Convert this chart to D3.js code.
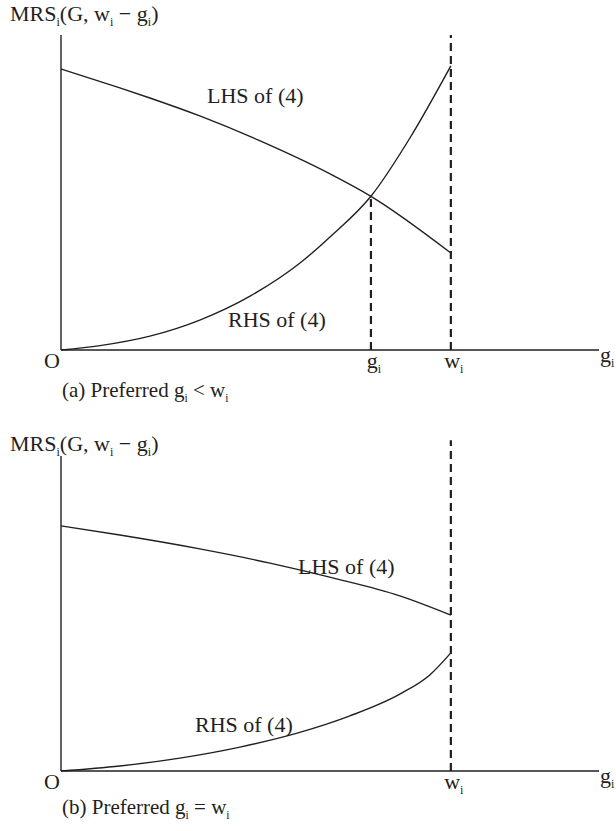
<!DOCTYPE html>
<html>
<head>
<meta charset="utf-8">
<script src="https://cdn.jsdelivr.net/npm/d3@7"></script>
<style>
  html, body { margin: 0; padding: 0; background: #fff; }
  svg text { font-family: "Liberation Serif", "Times New Roman", serif; fill: #231f20; }
</style>
</head>
<body>
<svg id="chart" width="616" height="831"></svg>
<script>
// Horizontal axis: contribution g_i, with endowment w_i marked at 10
const xMax = 13.8;
const endowment = 10;          // w_i
const preferredA = 7.95;       // interior optimum g_i in panel (a)

// Panel (a): interior solution
const lhsA = [[0, 8.92], [1.51, 8.32], [2.28, 8.0], [3.56, 7.43], [5.05, 6.67], [6.95, 5.56], [7.95, 4.88], [10, 3.08]];
const rhsA = [[0, 0], [1.0, 0.14], [2.28, 0.44], [3.56, 0.95], [4.85, 1.71], [6.13, 2.76], [6.90, 3.59], [7.95, 4.88], [8.95, 6.73], [10, 9.02]];

// Panel (b): corner solution at g_i = w_i
const lhsB = [[0, 7.78], [1.51, 7.49], [3.56, 7.05], [5.36, 6.60], [6.97, 6.13], [8.69, 5.56], [10, 4.95]];
const rhsB = [[0, 0], [1.51, 0.16], [3.05, 0.41], [4.59, 0.76], [6.08, 1.21], [7.41, 1.75], [8.69, 2.44], [9.46, 3.05], [10, 3.75]];

const ink = "#231f20";
const svg = d3.select("#chart");

const x = d3.scaleLinear().domain([0, xMax]).range([61, 599]);

// write a label made of plain and subscript pieces
function label(g, px, py, parts, size, anchor) {
  const t = g.append("text").attr("x", px).attr("y", py)
    .attr("font-size", size).attr("text-anchor", anchor || "start");
  let down = false;
  parts.forEach(p => {
    const sub = Array.isArray(p);
    const s = t.append("tspan").text(sub ? p[0] : p);
    if (sub && !down) { s.attr("dy", 5).attr("font-size", size * 0.55); down = true; }
    else if (!sub && down) { s.attr("dy", -5); down = false; }
    else if (sub) { s.attr("font-size", size * 0.55); }
  });
  return t;
}

function panel(cfg) {
  const g = svg.append("g");
  const y = d3.scaleLinear().domain([0, 10]).range([cfg.base, cfg.base - 315]);
  const line = d3.line().x(d => x(d[0])).y(d => y(d[1])).curve(d3.curveMonotoneX);

  // axes
  g.append("line").attr("x1", x(0)).attr("x2", x(0)).attr("y1", y(0)).attr("y2", y(cfg.axisTop))
    .attr("stroke", ink).attr("stroke-width", 1.4);
  g.append("line").attr("x1", x(0)).attr("x2", x(xMax)).attr("y1", y(0)).attr("y2", y(0))
    .attr("stroke", ink).attr("stroke-width", 1.4);

  // dashed guides
  cfg.guides.forEach(gd => {
    g.append("line").attr("x1", x(gd.at)).attr("x2", x(gd.at))
      .attr("y1", y(0)).attr("y2", y(gd.top))
      .attr("stroke", ink).attr("stroke-width", 2.2).attr("stroke-dasharray", "8,5");
  });

  // curves
  [cfg.lhs, cfg.rhs].forEach(data => {
    g.append("path").datum(data).attr("d", line)
      .attr("fill", "none").attr("stroke", ink).attr("stroke-width", 1.4);
  });

  const fs = 22;
  label(g, 10, cfg.titleY, ["MRS", ["i"], "(G, w", ["i"], " \u2212 g", ["i"], ")"], fs);
  label(g, 60, y(0) + 18, ["O"], fs, "end");
  label(g, 600, y(0) + 12, ["g", ["i"]], fs);
  cfg.ticks.forEach(tk => label(g, x(tk.at) + 3, y(0) + 18, [tk.name, ["i"]], fs, "middle"));
  label(g, 62, y(0) + cfg.captionGap, cfg.caption, 21);
  label(g, cfg.lhsLabel[0], cfg.lhsLabel[1], ["LHS of (4)"], fs);
  label(g, cfg.rhsLabel[0], cfg.rhsLabel[1], ["RHS of (4)"], fs);
}

panel({
  base: 350, axisTop: 10, titleY: 21, captionGap: 47,
  lhs: lhsA, rhs: rhsA,
  guides: [{ at: preferredA, top: 4.88 }, { at: endowment, top: 10 }],
  ticks: [{ at: preferredA, name: "g" }, { at: endowment, name: "w" }],
  caption: ["(a) Preferred g", ["i"], " < w", ["i"]],
  lhsLabel: [207, 103], rhsLabel: [228, 327]
});

panel({
  base: 771, axisTop: 10.0, titleY: 451, captionGap: 43,
  lhs: lhsB, rhs: rhsB,
  guides: [{ at: endowment, top: 10.5 }],
  ticks: [{ at: endowment, name: "w" }],
  caption: ["(b) Preferred g", ["i"], " = w", ["i"]],
  lhsLabel: [298, 574], rhsLabel: [195, 732]
});
</script>
</body>
</html>
